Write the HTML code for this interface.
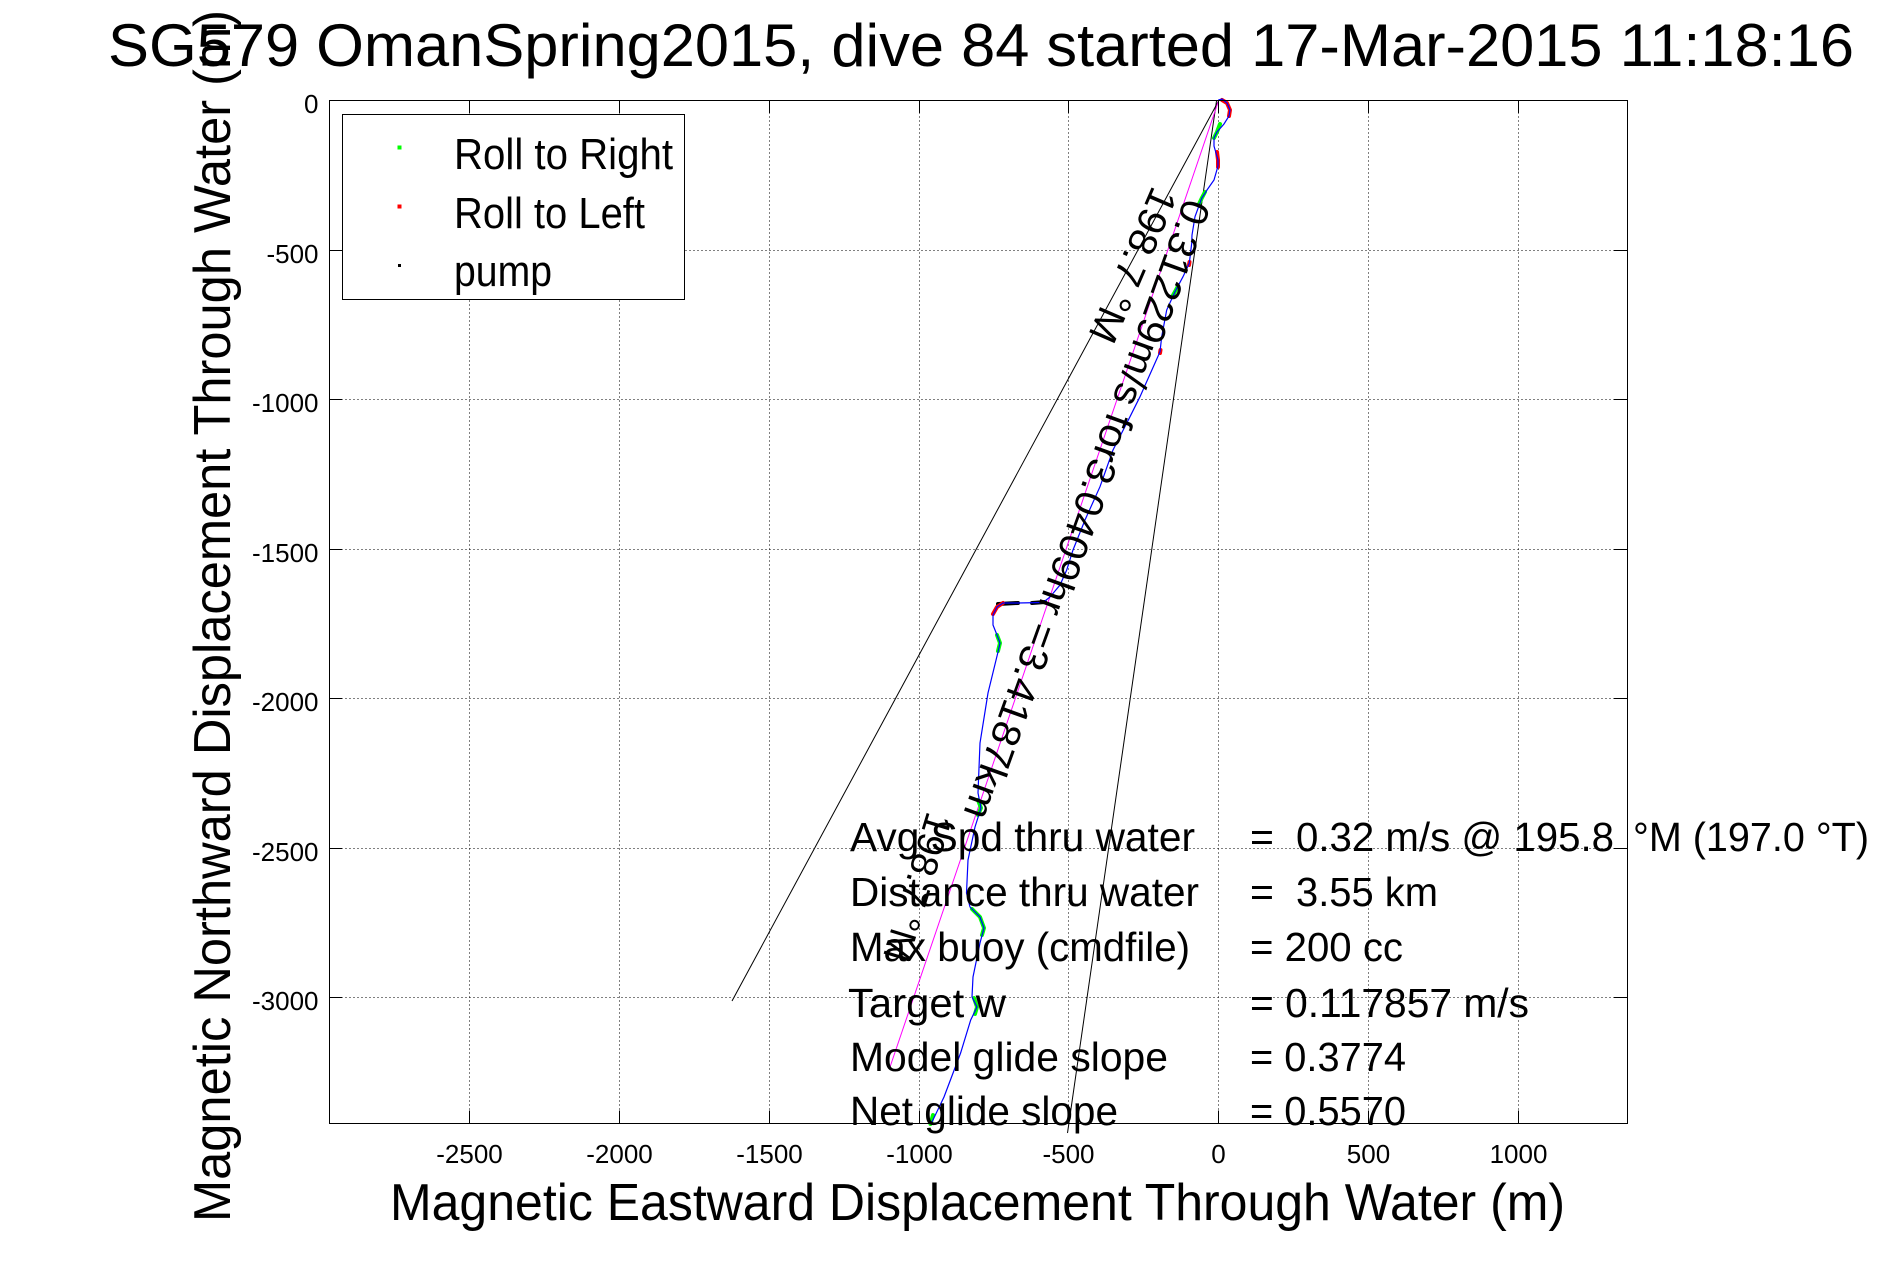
<!DOCTYPE html>
<html>
<head>
<meta charset="utf-8">
<style>
html,body{margin:0;padding:0;background:#fff;}
svg{display:block;}
text{font-family:"Liberation Sans", Arial, sans-serif;fill:#000;}
</style>
</head>
<body>
<svg width="1891" height="1262" viewBox="0 0 1891 1262" xmlns="http://www.w3.org/2000/svg">
<rect x="0" y="0" width="1891" height="1262" fill="#fff"/>

<!-- grid -->
<g stroke="#000" stroke-width="1" stroke-dasharray="1 3" fill="none">
  <path d="M469.5 100.5V1123.5M619.5 100.5V1123.5M769.5 100.5V1123.5M919.5 100.5V1123.5M1068.5 100.5V1123.5M1218.5 100.5V1123.5M1368.5 100.5V1123.5M1518.5 100.5V1123.5"/>
  <path d="M329.5 250.5H1627.5M329.5 399.5H1627.5M329.5 549.5H1627.5M329.5 698.5H1627.5M329.5 848.5H1627.5M329.5 997.5H1627.5"/>
</g>

<!-- black reference lines -->
<g stroke="#000" stroke-width="1" fill="none">
  <line x1="1218.5" y1="101" x2="732" y2="1001"/>
  <line x1="1216.5" y1="101" x2="1067.5" y2="1133"/>
</g>
<!-- magenta line -->
<line x1="1218.5" y1="101" x2="890" y2="1067" stroke="#ff00ff" stroke-width="1"/>

<!-- marker clusters -->
<g fill="none" stroke-width="4" stroke-linecap="round" stroke-linejoin="round">
  <polyline stroke="#ff0000" points="1222,100 1227,103 1230,110 1229,116"/>
  <polyline stroke="#00ff00" points="1220,124 1217,132 1214,138"/>
  <polyline stroke="#ff0000" points="1217,152 1218,160 1218,167"/>
  <polyline stroke="#00ff00" points="1205,192 1201.7,198.3 1199,204"/>
  <polyline stroke="#ff0000" points="1189.5,262 1189,265"/>
  <polyline stroke="#00ff00" points="1178,286 1175,291.7 1172,297"/>
  <polyline stroke="#ff0000" points="1160.5,350 1160,353"/>
  <polyline stroke="#000000" points="998,604 1018,603"/>
  <polyline stroke="#000000" points="1032,603 1045,602"/>
  <polyline stroke="#ff0000" points="1003,603 997,607 993,614"/>
  <polyline stroke="#00ff00" points="997,635 1000,643 998,651"/>
  <polyline stroke="#00ff00" points="978,800 981,808 978,815"/>
  <polyline stroke="#00ff00" points="972,909 980,917 984,928 982,935"/>
  <polyline stroke="#00ff00" points="974,998 977,1007 975,1014"/>
  <polyline stroke="#00ff00" points="933,1115 930.5,1124"/>
</g>

<!-- trajectory -->
<polyline fill="none" stroke="#0000ff" stroke-width="1.2" points="1218.3,100 1222,99 1227,103 1230,110 1229,116 1224,124 1217,132 1214,138 1214,146 1216,153 1218,160 1218,166 1214,180 1207,190 1201.7,198.3 1195,216.7 1192,235 1191.7,243.3 1189.3,263.3 1183,276.7 1175,291.7 1166.7,310 1161.7,336.7 1160,351.7 1155,363 1140,396.7 1130,416.7 1113,450 1100,486.7 1085,520 1073,550 1066.7,570 1060,585 1050,597 1043,602.5 1018,603 1003,603 997,607 993,615 993,625 997,635 1000,643 998,652 988,693 980,743 978,793 981,808 975,827 968,860 966.5,893 970,907 980,917 984,928 980,943 973,977 972,997 977,1007 970.7,1020 960.6,1053 944,1097 931,1124"/>

<!-- ticks -->
<g stroke="#000" stroke-width="1" fill="none">
  <path d="M469.5 1123.5V1110.5M619.5 1123.5V1110.5M769.5 1123.5V1110.5M919.5 1123.5V1110.5M1068.5 1123.5V1110.5M1218.5 1123.5V1110.5M1368.5 1123.5V1110.5M1518.5 1123.5V1110.5"/>
  <path d="M469.5 100.5V113.5M619.5 100.5V113.5M769.5 100.5V113.5M919.5 100.5V113.5M1068.5 100.5V113.5M1218.5 100.5V113.5M1368.5 100.5V113.5M1518.5 100.5V113.5"/>
  <path d="M329.5 250.5H342.5M329.5 399.5H342.5M329.5 549.5H342.5M329.5 698.5H342.5M329.5 848.5H342.5M329.5 997.5H342.5"/>
  <path d="M1627.5 250.5H1614.5M1627.5 399.5H1614.5M1627.5 549.5H1614.5M1627.5 698.5H1614.5M1627.5 848.5H1614.5M1627.5 997.5H1614.5"/>
  <rect x="329.5" y="100.5" width="1298" height="1023"/>
</g>

<!-- legend -->
<rect x="342.5" y="114.5" width="342" height="185" fill="#fff" stroke="#000" stroke-width="1"/>
<rect x="397.5" y="145.5" width="4" height="4" fill="#00ff00"/>
<rect x="397.5" y="204.5" width="4" height="4" fill="#ff0000"/>
<rect x="398" y="264" width="3" height="3" fill="#000"/>
<text x="454" y="169" font-size="43.5" textLength="219" lengthAdjust="spacingAndGlyphs">Roll to Right</text>
<text x="454" y="228" font-size="43.5" textLength="191" lengthAdjust="spacingAndGlyphs">Roll to Left</text>
<text x="454" y="286" font-size="43.5" textLength="98" lengthAdjust="spacingAndGlyphs">pump</text>

<!-- y tick labels -->
<g font-size="26" text-anchor="end">
  <text x="318.5" y="113">0</text>
  <text x="318.5" y="263">-500</text>
  <text x="318.5" y="412">-1000</text>
  <text x="318.5" y="562">-1500</text>
  <text x="318.5" y="711">-2000</text>
  <text x="318.5" y="861">-2500</text>
  <text x="318.5" y="1010">-3000</text>
</g>
<!-- x tick labels -->
<g font-size="26" text-anchor="middle">
  <text x="469.5" y="1163">-2500</text>
  <text x="619.5" y="1163">-2000</text>
  <text x="769.5" y="1163">-1500</text>
  <text x="919.5" y="1163">-1000</text>
  <text x="1068.5" y="1163">-500</text>
  <text x="1218.5" y="1163">0</text>
  <text x="1368.5" y="1163">500</text>
  <text x="1518.5" y="1163">1000</text>
</g>

<!-- rotated labels on lines -->
<text transform="translate(1185,197) rotate(109.8)" font-size="40" textLength="655" lengthAdjust="spacingAndGlyphs">0.31229m/s for3.0409hr =3.4187km</text>
<text transform="translate(1152.8,184.6) rotate(113.3)" font-size="40" textLength="164" lengthAdjust="spacingAndGlyphs">198.7 °M</text>
<text transform="translate(927.5,810.3) rotate(107)" font-size="38" textLength="153" lengthAdjust="spacingAndGlyphs">198.7 °M</text>

<!-- annotation block -->
<g font-size="41">
  <text x="850" y="851" textLength="345" lengthAdjust="spacingAndGlyphs">Avg Spd thru water</text>
  <text x="1250" y="851">=</text>
  <text x="1296" y="851" textLength="318" lengthAdjust="spacingAndGlyphs">0.32 m/s @ 195.8</text>
  <text x="1633" y="851" textLength="236" lengthAdjust="spacingAndGlyphs">°M (197.0 °T)</text>

  <text x="850" y="906" textLength="349" lengthAdjust="spacingAndGlyphs">Distance thru water</text>
  <text x="1250" y="906">=</text>
  <text x="1296" y="906" textLength="142" lengthAdjust="spacingAndGlyphs">3.55 km</text>

  <text x="850" y="961" textLength="340" lengthAdjust="spacingAndGlyphs">Max buoy (cmdfile)</text>
  <text x="1250" y="961" textLength="153" lengthAdjust="spacingAndGlyphs">= 200 cc</text>

  <text x="848" y="1017" textLength="158" lengthAdjust="spacingAndGlyphs">Target w</text>
  <text x="1250" y="1017" textLength="279" lengthAdjust="spacingAndGlyphs">= 0.117857 m/s</text>

  <text x="850" y="1071" textLength="318" lengthAdjust="spacingAndGlyphs">Model glide slope</text>
  <text x="1250" y="1071" textLength="156" lengthAdjust="spacingAndGlyphs">= 0.3774</text>

  <text x="850" y="1125" textLength="268" lengthAdjust="spacingAndGlyphs">Net glide slope</text>
  <text x="1250" y="1125" textLength="156" lengthAdjust="spacingAndGlyphs">= 0.5570</text>
</g>

<!-- axis labels -->
<text x="390" y="1220" font-size="52" textLength="1175" lengthAdjust="spacingAndGlyphs">Magnetic Eastward Displacement Through Water (m)</text>
<text transform="translate(230,1222) rotate(-90)" font-size="52" textLength="1212" lengthAdjust="spacingAndGlyphs">Magnetic Northward Displacement Through Water (m)</text>

<!-- title -->
<text x="108" y="66" font-size="60" textLength="1746" lengthAdjust="spacingAndGlyphs">SG579 OmanSpring2015, dive 84 started 17-Mar-2015 11:18:16</text>
</svg>
</body>
</html>
